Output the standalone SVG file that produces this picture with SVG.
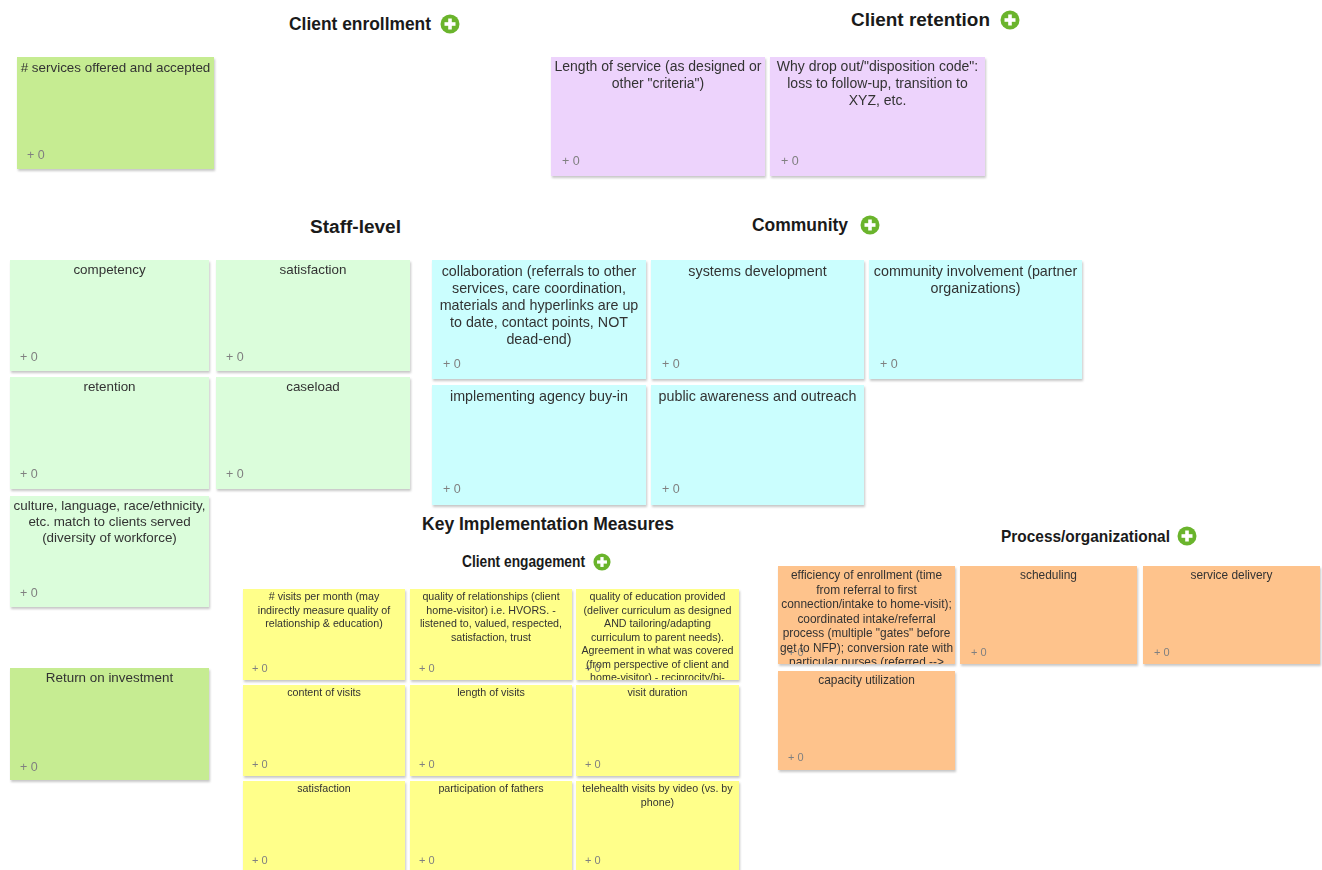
<svg xmlns="http://www.w3.org/2000/svg" width="1322" height="870" viewBox="0 0 1322 870">
<style>
.hd{font-family:"Liberation Sans",Arial,sans-serif;font-weight:bold;fill:#1a1a1a;font-size:18px}
.t{font-family:"Liberation Sans",Arial,sans-serif;fill:#333;font-size:13.4px;text-anchor:middle}
.tp{font-size:14px}
.tc{font-size:14.3px}
.ts{font-family:"Liberation Sans",Arial,sans-serif;fill:#333;font-size:10.7px;text-anchor:middle}
.to{font-family:"Liberation Sans",Arial,sans-serif;fill:#333;font-size:11.9px;text-anchor:middle}
.v{font-family:"Liberation Sans",Arial,sans-serif;fill:#808080;font-size:12.5px}
.vs{font-family:"Liberation Sans",Arial,sans-serif;fill:#808080;font-size:11px}
.g1{fill:#c6ec92}.pu{fill:#edd3fc}.lg{fill:#dbfddb}.cy{fill:#cbfefe}.ye{fill:#ffff8a}.or{fill:#fec38c}
.card{filter:url(#sh)}
</style>
<defs>
<filter id="sh" x="-5%" y="-5%" width="115%" height="120%">
<feDropShadow dx="1" dy="2" stdDeviation="1" flood-color="#000" flood-opacity="0.22"/>
</filter>
<g id="plus">
<circle r="9.5" fill="#6ab42c"/>
<rect x="-5.5" y="-1.8" width="11" height="3.6" fill="#fff"/>
<rect x="-1.8" y="-5.5" width="3.6" height="11" fill="#fff"/>
</g>
<clipPath id="cEd"><rect x="576" y="589" width="163" height="91"/></clipPath>
<clipPath id="cEf"><rect x="778" y="566" width="177" height="98"/></clipPath>
<clipPath id="cKey"><rect x="400" y="516" width="320" height="30"/></clipPath>
</defs>
<rect width="1322" height="870" fill="#fff"/>

<g id="headers">
<g id="h-enroll"><text class="hd" x="289" y="30" textLength="142" lengthAdjust="spacingAndGlyphs">Client enrollment</text><use href="#plus" x="450" y="24"/></g>
<g id="h-retention"><text class="hd" x="851" y="26" textLength="139" lengthAdjust="spacingAndGlyphs">Client retention</text><use href="#plus" x="1010" y="20"/></g>
<g id="h-staff"><text class="hd" x="310" y="233" textLength="91" lengthAdjust="spacingAndGlyphs">Staff-level</text></g>
<g id="h-community"><text class="hd" x="752" y="231" textLength="96" lengthAdjust="spacingAndGlyphs">Community</text><use href="#plus" x="870" y="225"/></g>
<g id="h-key" clip-path="url(#cKey)"><text class="hd" x="422" y="530" textLength="252" lengthAdjust="spacingAndGlyphs">Key Implementation Measures</text></g>
<g id="h-engage"><text class="hd" style="font-size:16px" x="462" y="567" textLength="123" lengthAdjust="spacingAndGlyphs">Client engagement</text><use href="#plus" x="602" y="562" transform="translate(602 562) scale(0.9) translate(-602 -562)"/></g>
<g id="h-process"><text class="hd" style="font-size:17px" x="1001" y="542" textLength="169" lengthAdjust="spacingAndGlyphs">Process/organizational</text><use href="#plus" x="1187" y="536"/></g>
</g>

<g id="connectors"></g>

<g id="n-services" class="card"><rect class="g1" x="17" y="57" width="197" height="112"/><text class="t" x="115.5" y="72">
# services offered and accepted</text><text class="v" x="27" y="159">+ 0</text></g>

<g id="n-length-service" class="card"><rect class="pu" x="551" y="57" width="214" height="119"/>
<text class="t tp" x="658" y="71">Length of service (as designed or</text><text class="t tp" x="658" y="88">other "criteria")</text><text class="v" x="562" y="165">+ 0</text></g>
<g id="n-dropout" class="card"><rect class="pu" x="770" y="57" width="215" height="119"/>
<text class="t tp" x="877.5" y="71">Why drop out/"disposition code":</text><text class="t tp" x="877.5" y="88">loss to follow-up, transition to</text><text class="t tp" x="877.5" y="105">XYZ, etc.</text><text class="v" x="781" y="165">+ 0</text></g>

<g id="n-competency" class="card"><rect class="lg" x="10" y="260" width="199" height="111"/><text class="t" x="109.5" y="274">competency</text><text class="v" x="20" y="361">+ 0</text></g>
<g id="n-staff-satisfaction" class="card"><rect class="lg" x="216" y="260" width="194" height="111"/><text class="t" x="313" y="274">satisfaction</text><text class="v" x="226" y="361">+ 0</text></g>
<g id="n-retention" class="card"><rect class="lg" x="10" y="377" width="199" height="112"/><text class="t" x="109.5" y="391">retention</text><text class="v" x="20" y="478">+ 0</text></g>
<g id="n-caseload" class="card"><rect class="lg" x="216" y="377" width="194" height="112"/><text class="t" x="313" y="391">caseload</text><text class="v" x="226" y="478">+ 0</text></g>
<g id="n-culture" class="card"><rect class="lg" x="10" y="496" width="199" height="111"/>
<text class="t" x="109.5" y="510">culture, language, race/ethnicity,</text><text class="t" x="109.5" y="526">etc. match to clients served</text><text class="t" x="109.5" y="542">(diversity of workforce)</text><text class="v" x="20" y="597">+ 0</text></g>

<g id="n-roi" class="card"><rect class="g1" x="10" y="668" width="199" height="112"/><text class="t" x="109.5" y="682">Return on investment</text><text class="v" x="20" y="771">+ 0</text></g>

<g id="n-collaboration" class="card"><rect class="cy" x="432" y="260" width="214" height="119"/>
<text class="t tc" x="539" y="276">collaboration (referrals to other</text><text class="t tc" x="539" y="293">services, care coordination,</text><text class="t tc" x="539" y="310">materials and hyperlinks are up</text><text class="t tc" x="539" y="327">to date, contact points, NOT</text><text class="t tc" x="539" y="344">dead-end)</text><text class="v" x="443" y="368">+ 0</text></g>
<g id="n-systems" class="card"><rect class="cy" x="651" y="260" width="213" height="119"/><text class="t tc" x="757.5" y="276">systems development</text><text class="v" x="662" y="368">+ 0</text></g>
<g id="n-community-inv" class="card"><rect class="cy" x="869" y="260" width="213" height="119"/>
<text class="t tc" x="975.5" y="276">community involvement (partner</text><text class="t tc" x="975.5" y="293">organizations)</text><text class="v" x="880" y="368">+ 0</text></g>
<g id="n-agency" class="card"><rect class="cy" x="432" y="385" width="214" height="120"/><text class="t tc" x="539" y="401">implementing agency buy-in</text><text class="v" x="443" y="493">+ 0</text></g>
<g id="n-public" class="card"><rect class="cy" x="651" y="385" width="213" height="120"/><text class="t tc" x="757.5" y="401">public awareness and outreach</text><text class="v" x="662" y="493">+ 0</text></g>

<g id="n-visits-month" class="card"><rect class="ye" x="243" y="589" width="162" height="91"/>
<text class="ts" x="324" y="600">
# visits per month (may</text><text class="ts" x="324" y="613.5">indirectly measure quality of</text><text class="ts" x="324" y="627">relationship &amp; education)</text><text class="vs" x="252" y="672">+ 0</text></g>
<g id="n-quality-rel" class="card"><rect class="ye" x="410" y="589" width="162" height="91"/>
<text class="ts" x="491" y="600">quality of relationships (client</text><text class="ts" x="491" y="613.5">home-visitor) i.e. HVORS. -</text><text class="ts" x="491" y="627">listened to, valued, respected,</text><text class="ts" x="491" y="640.5">satisfaction, trust</text><text class="vs" x="419" y="672">+ 0</text></g>
<g id="n-quality-edu" class="card"><rect class="ye" x="576" y="589" width="163" height="91"/>
<g clip-path="url(#cEd)"><text class="vs" x="585" y="672">+ 0</text>
<text class="ts" x="657.5" y="600">quality of education provided</text><text class="ts" x="657.5" y="613.5">(deliver curriculum as designed</text><text class="ts" x="657.5" y="627">AND tailoring/adapting</text><text class="ts" x="657.5" y="640.5">curriculum to parent needs).</text><text class="ts" x="657.5" y="654">Agreement in what was covered</text><text class="ts" x="657.5" y="667.5">(from perspective of client and</text><text class="ts" x="657.5" y="681">home-visitor) - reciprocity/bi-</text></g></g>
<g id="n-content" class="card"><rect class="ye" x="243" y="685" width="162" height="91"/><text class="ts" x="324" y="696">content of visits</text><text class="vs" x="252" y="768">+ 0</text></g>
<g id="n-length-visits" class="card"><rect class="ye" x="410" y="685" width="162" height="91"/><text class="ts" x="491" y="696">length of visits</text><text class="vs" x="419" y="768">+ 0</text></g>
<g id="n-duration" class="card"><rect class="ye" x="576" y="685" width="163" height="91"/><text class="ts" x="657.5" y="696">visit duration</text><text class="vs" x="585" y="768">+ 0</text></g>
<g id="n-eng-satisfaction" class="card"><rect class="ye" x="243" y="781" width="162" height="92"/><text class="ts" x="324" y="792">satisfaction</text><text class="vs" x="252" y="864">+ 0</text></g>
<g id="n-fathers" class="card"><rect class="ye" x="410" y="781" width="162" height="92"/><text class="ts" x="491" y="792">participation of fathers</text><text class="vs" x="419" y="864">+ 0</text></g>
<g id="n-telehealth" class="card"><rect class="ye" x="576" y="781" width="163" height="92"/><text class="ts" x="657.5" y="792">telehealth visits by video (vs. by</text><text class="ts" x="657.5" y="805.5">phone)</text><text class="vs" x="585" y="864">+ 0</text></g>

<g id="n-efficiency" class="card"><rect class="or" x="778" y="566" width="177" height="98"/>
<g clip-path="url(#cEf)"><text class="vs" x="788" y="656">+ 0</text>
<text class="to" x="866.5" y="579">efficiency of enrollment (time</text><text class="to" x="866.5" y="593.5">from referral to first</text><text class="to" x="866.5" y="608">connection/intake to home-visit);</text><text class="to" x="866.5" y="622.5">coordinated intake/referral</text><text class="to" x="866.5" y="637">process (multiple "gates" before</text><text class="to" x="866.5" y="651.5">get to NFP); conversion rate with</text><text class="to" x="866.5" y="666">particular nurses (referred --&gt;</text></g></g>
<g id="n-scheduling" class="card"><rect class="or" x="960" y="566" width="177" height="98"/><text class="to" x="1048.5" y="579">scheduling</text><text class="vs" x="971" y="656">+ 0</text></g>
<g id="n-delivery" class="card"><rect class="or" x="1143" y="566" width="177" height="98"/><text class="to" x="1231.5" y="579">service delivery</text><text class="vs" x="1154" y="656">+ 0</text></g>
<g id="n-capacity" class="card"><rect class="or" x="778" y="671" width="177" height="99"/><text class="to" x="866.5" y="684">capacity utilization</text><text class="vs" x="788" y="761">+ 0</text></g>
</svg>
